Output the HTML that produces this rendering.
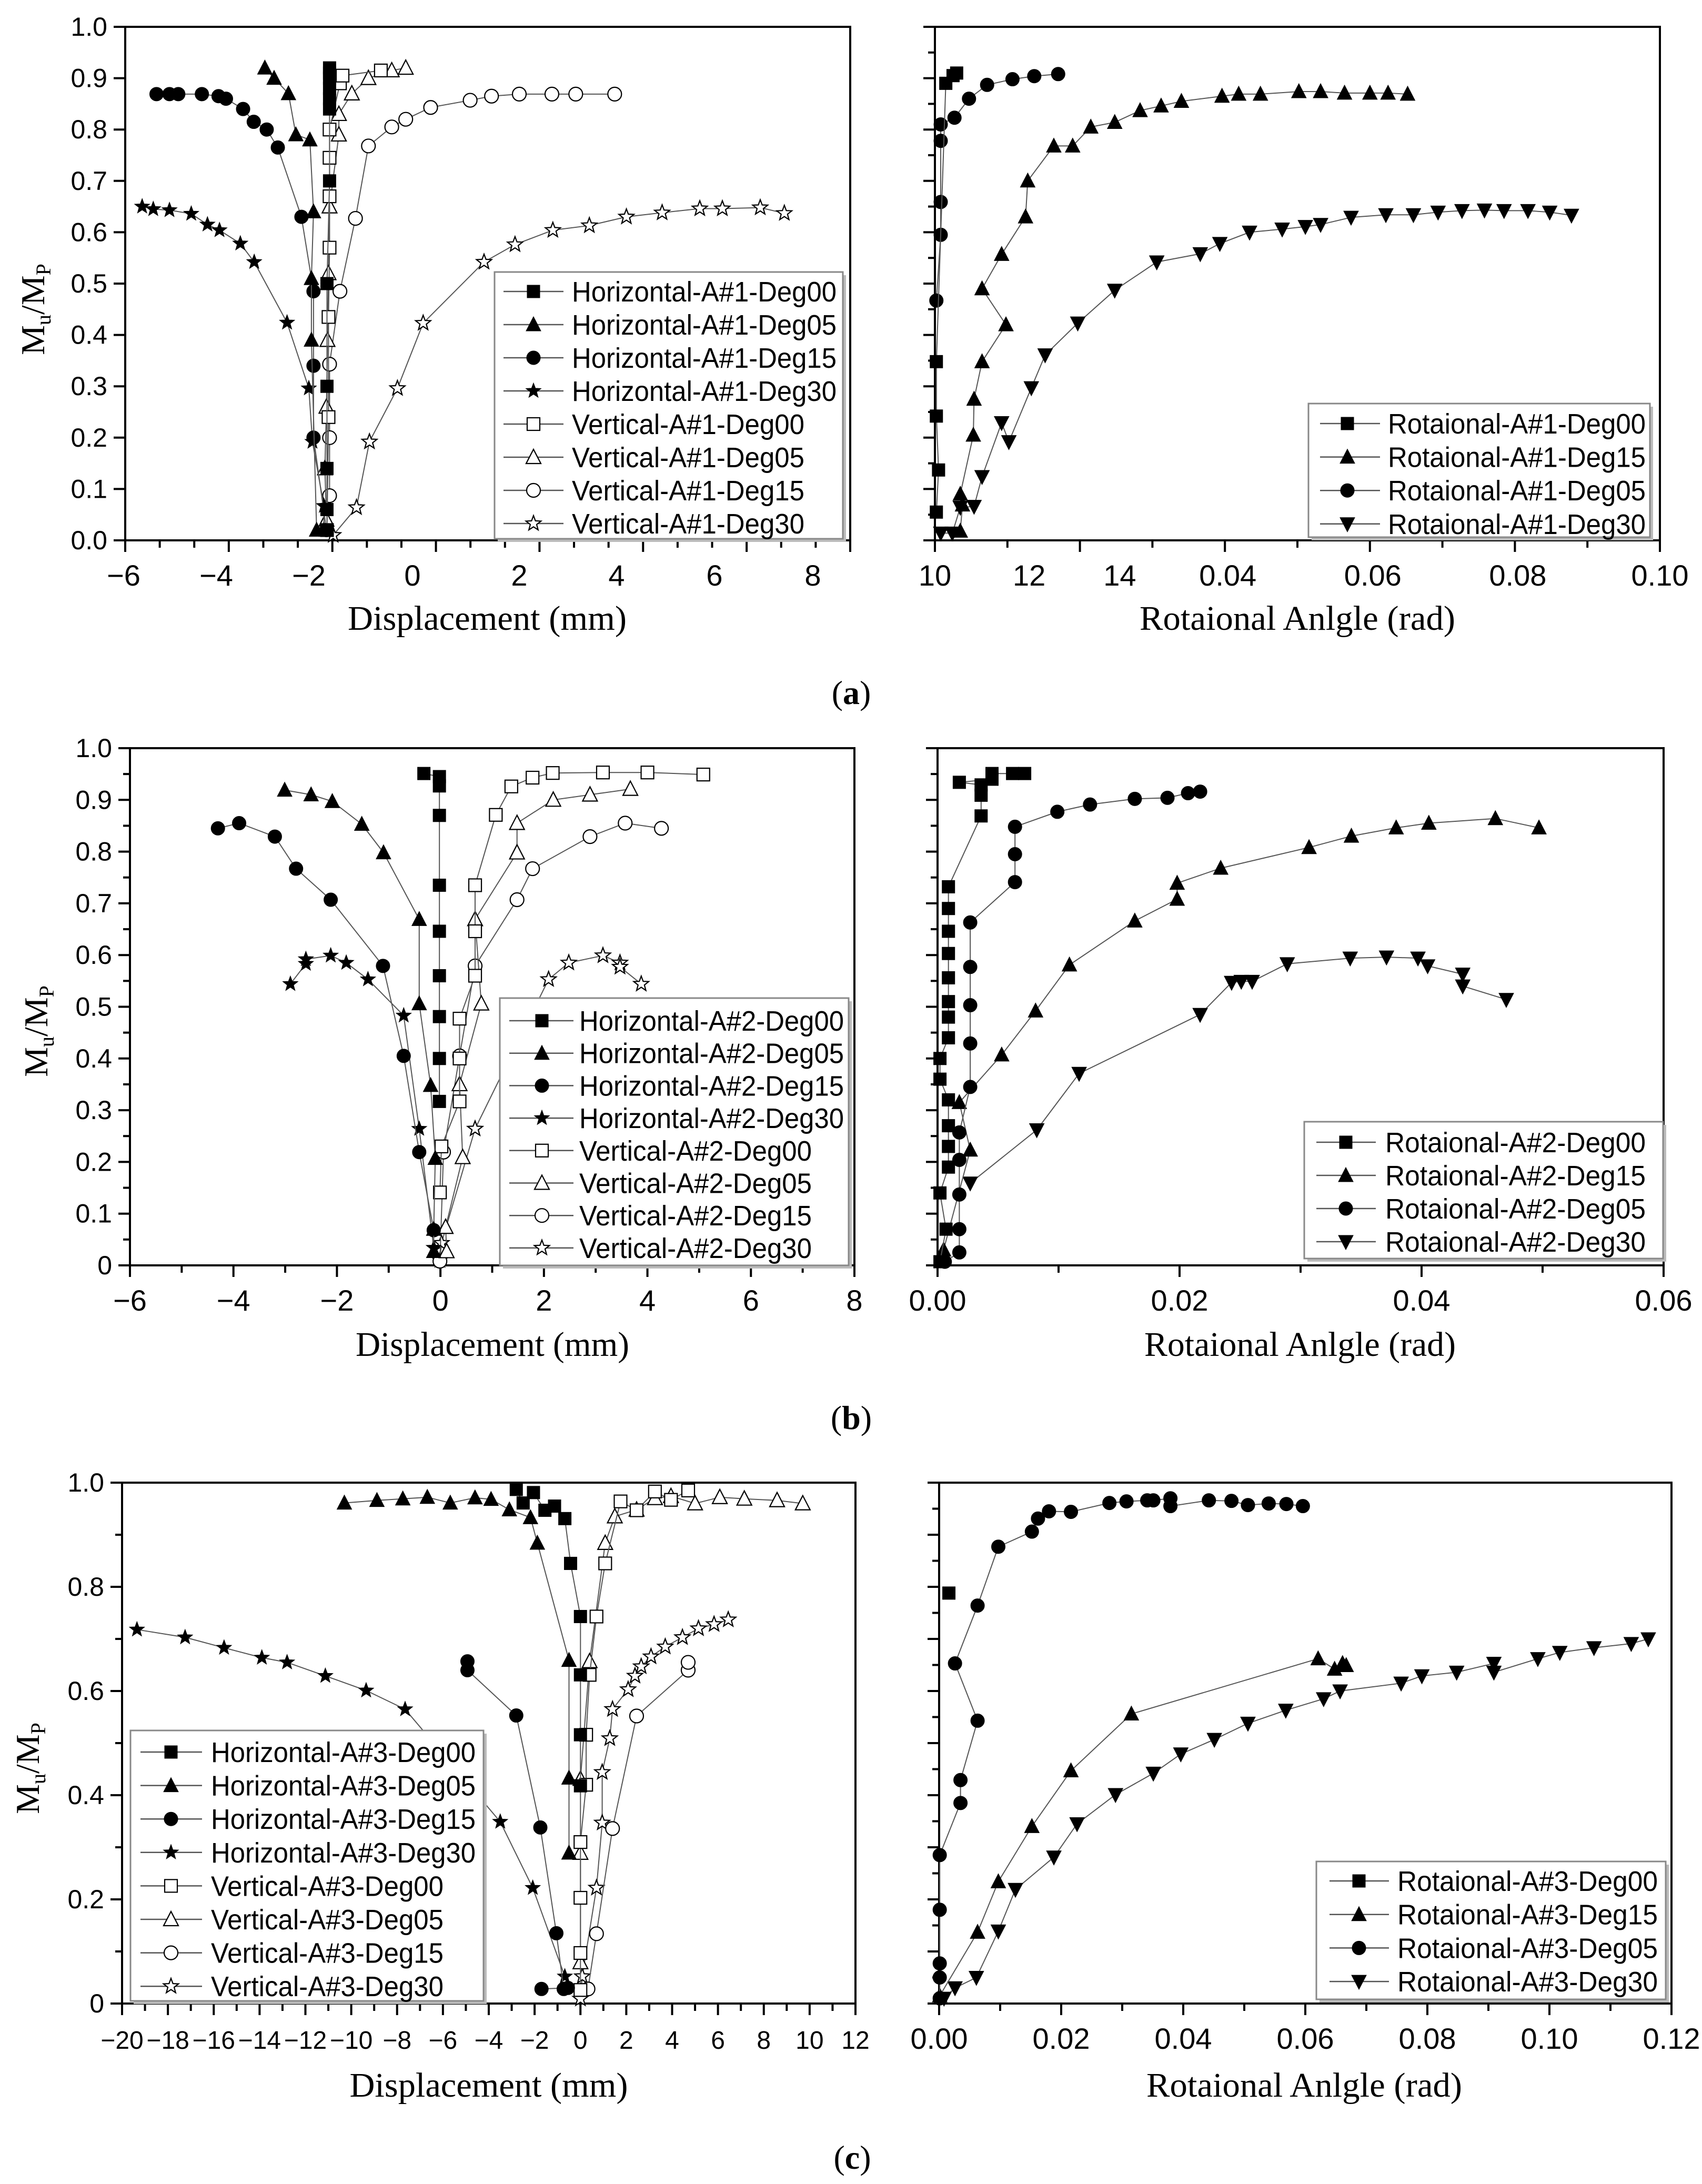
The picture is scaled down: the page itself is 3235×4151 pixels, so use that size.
<!DOCTYPE html>
<html><head><meta charset="utf-8"><title>Mu/Mp vs displacement and rotation</title>
<style>
html,body{margin:0;padding:0;background:#fff;}
svg{display:block;}
text{font-family:"Liberation Sans",sans-serif;fill:#000;}
.serif{font-family:"Liberation Serif",serif;}
</style></head>
<body>
<svg id="fig" xmlns="http://www.w3.org/2000/svg" width="3235" height="4151" viewBox="0 0 3235 4151">
<rect x="0" y="0" width="3235" height="4151" fill="#fff"/>
</svg>
<script>
// ===== Panel (a) left: displacement (mm) vs Mu/Mp =====
const aH00x=[-1.65,-1.65,-1.65,-1.65,-1.65,-1.6,-1.6,-1.6,-1.6,-1.6,-1.6,-1.6];
const aH00y=[0.02,0.06,0.14,0.3,0.5,0.7,0.84,0.86,0.88,0.9,0.91,0.92];
const aH05x=[-2.95,-2.75,-2.44,-2.28,-1.98,-1.91,-1.95,-1.95,-1.85];
const aH05y=[0.92,0.9,0.87,0.79,0.78,0.64,0.51,0.39,0.02];
const aH15x=[-5.29,-5.01,-4.82,-4.31,-3.95,-3.79,-3.42,-3.19,-2.91,-2.67,-2.16,-1.91,-1.91,-1.91,-1.66];
const aH15y=[0.869,0.869,0.869,0.869,0.865,0.86,0.84,0.815,0.8,0.765,0.63,0.485,0.34,0.2,0.02];
const aH30x=[-5.6,-5.36,-5.01,-4.54,-4.19,-3.93,-3.48,-3.18,-2.47,-2.0,-1.93,-1.71,-1.71];
const aH30y=[0.65,0.645,0.643,0.636,0.615,0.604,0.578,0.542,0.424,0.296,0.192,0.067,0.02];
const aV00x=[-1.65,-1.62,-1.62,-1.6,-1.6,-1.6,-1.6,-1.4,-1.35,-0.61];
const aV00y=[0.02,0.24,0.435,0.57,0.67,0.745,0.8,0.89,0.905,0.915];
const aV05x=[-1.66,-1.69,-1.66,-1.64,-1.62,-1.6,-1.42,-1.42,-1.17,-0.85,-0.4,-0.13];
const aV05y=[0.04,0.14,0.26,0.39,0.52,0.65,0.79,0.83,0.87,0.9,0.915,0.92];
const aV15x=[-1.6,-1.6,-1.6,-1.4,-1.1,-0.85,-0.4,-0.13,0.34,1.08,1.48,2.0,2.67,3.16,3.96];
const aV15y=[0.087,0.2,0.343,0.485,0.627,0.768,0.805,0.82,0.843,0.857,0.865,0.869,0.869,0.869,0.869];
const aV30x=[-1.53,-1.08,-0.83,-0.29,0.2,1.34,1.92,2.69,3.44,4.2,4.93,5.7,6.16,6.93,7.42];
const aV30y=[0.01,0.064,0.192,0.296,0.423,0.542,0.576,0.604,0.613,0.63,0.638,0.646,0.646,0.648,0.637];
// ===== Panel (a) right: rotation (rad) =====
const aR00x=[0.0002,0.0005,0.0002,0.0002,0.0015,0.0025,0.003];
const aR00y=[0.055,0.137,0.242,0.348,0.89,0.905,0.91];
const aR15x=[0.0035,0.0038,0.0035,0.0053,0.0054,0.0065,0.0098,0.0065,0.0092,0.0125,0.0128,0.0164,0.019,0.0215,0.0248,0.0283,0.0312,0.034,0.0396,0.0419,0.0449,0.0502,0.0532,0.0565,0.06,0.0625,0.0652];
const aR15y=[0.018,0.069,0.09,0.205,0.275,0.348,0.42,0.49,0.557,0.63,0.70,0.768,0.768,0.805,0.814,0.837,0.846,0.855,0.865,0.869,0.869,0.874,0.874,0.871,0.871,0.871,0.869];
const aR05x=[0.0002,0.0008,0.0008,0.0008,0.0008,0.0027,0.0047,0.0072,0.0107,0.0137,0.017];
const aR05y=[0.467,0.595,0.659,0.778,0.81,0.823,0.86,0.887,0.898,0.904,0.908];
const aR30x=[0.0008,0.0024,0.0035,0.0054,0.0065,0.0092,0.0102,0.0133,0.0152,0.0197,0.0248,0.0306,0.0366,0.0393,0.0434,0.0479,0.0511,0.0532,0.0574,0.0622,0.066,0.0694,0.0727,0.0758,0.0785,0.0818,0.0848,0.0878];
const aR30y=[0.014,0.014,0.064,0.066,0.124,0.229,0.192,0.297,0.361,0.423,0.487,0.542,0.558,0.578,0.6,0.606,0.611,0.615,0.629,0.634,0.634,0.639,0.642,0.643,0.642,0.642,0.639,0.633];
// ===== Panel (b) left =====
const bH00x=[-0.32,-0.02,-0.02,-0.02,-0.02,-0.02,-0.02,-0.02,-0.02,-0.02];
const bH00y=[0.951,0.945,0.927,0.87,0.735,0.646,0.56,0.481,0.4,0.317];
const bH05x=[-3.01,-2.5,-2.09,-1.52,-1.1,-0.41,-0.41,-0.19,-0.1,-0.13,-0.13];
const bH05y=[0.919,0.91,0.897,0.853,0.798,0.669,0.506,0.348,0.207,0.07,0.027];
const bH15x=[-4.3,-3.89,-3.2,-2.79,-2.12,-1.11,-0.71,-0.41,-0.13];
const bH15y=[0.845,0.855,0.829,0.767,0.707,0.579,0.405,0.219,0.068];
const bH30x=[-2.9,-2.6,-2.6,-2.12,-1.82,-1.4,-0.71,-0.41,-0.13];
const bH30y=[0.544,0.583,0.592,0.599,0.585,0.553,0.483,0.264,0.034];
const bV00x=[-0.01,0.02,0.37,0.37,0.37,0.67,0.67,0.67,1.07,1.37,1.78,2.17,3.14,4.0,5.08];
const bV00y=[0.141,0.23,0.317,0.4,0.477,0.56,0.646,0.735,0.871,0.926,0.943,0.952,0.953,0.953,0.949];
const bV05x=[0.12,0.1,0.43,0.37,0.79,0.67,1.48,1.48,2.18,2.89,3.67];
const bV05y=[0.027,0.074,0.209,0.35,0.506,0.669,0.798,0.855,0.9,0.91,0.921];
const bV15x=[-0.01,0.06,0.37,0.67,1.48,1.78,2.89,3.57,4.27];
const bV15y=[0.008,0.219,0.405,0.579,0.707,0.767,0.829,0.855,0.845];
const bV30x=[-0.01,0.02,0.67,2.09,2.48,3.14,3.47,3.47,3.88];
const bV30y=[0.01,0.043,0.264,0.553,0.585,0.599,0.585,0.577,0.544];
// ===== Panel (b) right =====
const bR00x=[0.0002,0.0007,0.0002,0.0009,0.0009,0.0009,0.0009,0.0002,0.0002,0.0009,0.0009,0.0009,0.0009,0.0009,0.0009,0.0009,0.0009,0.0036,0.0036,0.0036,0.0018,0.0045,0.0045,0.0062,0.0072];
const bR00y=[0.007,0.07,0.14,0.19,0.23,0.27,0.32,0.36,0.40,0.44,0.48,0.51,0.556,0.603,0.646,0.69,0.732,0.869,0.909,0.929,0.934,0.94,0.951,0.951,0.951];
const bR05x=[0.0006,0.0018,0.0018,0.0018,0.0018,0.0018,0.0027,0.0027,0.0027,0.0027,0.0027,0.0064,0.0064,0.0064,0.0099,0.0126,0.0163,0.019,0.0207,0.0217];
const bR05y=[0.007,0.025,0.07,0.137,0.204,0.257,0.345,0.429,0.503,0.577,0.663,0.741,0.795,0.848,0.877,0.891,0.902,0.904,0.913,0.916];
const bR15x=[0.0005,0.0027,0.0018,0.0053,0.0081,0.0109,0.0163,0.0198,0.0198,0.0234,0.0307,0.0342,0.0379,0.0406,0.0461,0.0497];
const bR15y=[0.03,0.223,0.315,0.407,0.492,0.581,0.666,0.708,0.739,0.768,0.808,0.83,0.846,0.855,0.864,0.846];
const bR30x=[0.0027,0.0082,0.0117,0.0217,0.0243,0.0251,0.026,0.0289,0.0341,0.0371,0.0397,0.0405,0.0434,0.0434,0.047];
const bR30y=[0.159,0.262,0.371,0.485,0.547,0.549,0.549,0.583,0.594,0.596,0.594,0.579,0.563,0.54,0.514];
// ===== Panel (c) left =====
const cH00x=[-2.8,-2.5,-2.05,-1.55,-1.13,-0.68,-0.43,0,0,0,0];
const cH00y=[0.987,0.961,0.981,0.947,0.955,0.931,0.845,0.743,0.631,0.516,0.418];
const cH05x=[-10.3,-8.88,-7.75,-6.68,-5.68,-4.6,-3.9,-3.1,-2.18,-1.88,-0.5,-0.5,-0.5];
const cH05y=[0.961,0.966,0.969,0.972,0.961,0.971,0.968,0.948,0.933,0.884,0.659,0.433,0.289];
const cH15x=[-4.93,-4.93,-2.8,-1.75,-1.05,-0.73,-0.55,-1.7];
const cH15y=[0.657,0.64,0.553,0.338,0.135,0.028,0.03,0.028];
const cH30x=[-19.35,-17.25,-15.55,-13.9,-12.8,-11.13,-9.35,-7.65,-3.5,-2.08,-0.68];
const cH30y=[0.718,0.703,0.683,0.664,0.655,0.629,0.601,0.565,0.349,0.222,0.052];
const cV00x=[0,0,0,0,0.25,0.25,0.4,0.7,1.08,1.75,2.45,3.25,3.95,4.7];
const cV00y=[0.026,0.097,0.203,0.31,0.42,0.516,0.631,0.743,0.845,0.964,0.947,0.983,0.967,0.985];
const cV05x=[0,0,0,0.4,1.08,1.5,2.45,3.25,3.95,5.0,6.08,7.15,8.58,9.7];
const cV05y=[0.079,0.289,0.431,0.657,0.884,0.935,0.948,0.97,0.974,0.96,0.972,0.969,0.966,0.96];
const cV15x=[0.33,0.7,1.4,2.45,4.7,4.7];
const cV15y=[0.028,0.134,0.336,0.552,0.64,0.655];
const cV30x=[0,0.08,0.7,0.95,0.95,1.28,1.4,2.08,2.38,2.65,3.08,3.7,4.45,5.15,5.83,6.45];
const cV30y=[0.009,0.052,0.222,0.347,0.444,0.509,0.565,0.603,0.629,0.647,0.666,0.685,0.703,0.72,0.728,0.737];
// ===== Panel (c) right =====
const cR00x=[0.0016];
const cR00y=[0.788];
const cR05x=[0.0001,0.0001,0.0001,0.0001,0.0001,0.0035,0.0035,0.0063,0.0026,0.0063,0.0097,0.0152,0.0162,0.018,0.0216,0.0279,0.0307,0.0341,0.0351,0.0379,0.0379,0.0442,0.0479,0.0506,0.054,0.0569,0.0596];
const cR05y=[0.01,0.05,0.077,0.18,0.285,0.385,0.429,0.543,0.653,0.764,0.877,0.906,0.931,0.945,0.944,0.961,0.964,0.966,0.966,0.97,0.955,0.966,0.965,0.957,0.96,0.959,0.955];
const cR15x=[0.0001,0.0063,0.0097,0.0152,0.0216,0.0315,0.0621,0.0648,0.0661,0.0667];
const cR15y=[0.015,0.137,0.234,0.34,0.447,0.556,0.662,0.642,0.653,0.649];
const cR30x=[0.0008,0.0026,0.0061,0.0097,0.0125,0.0188,0.0226,0.0289,0.0351,0.0396,0.0451,0.0506,0.0568,0.063,0.0657,0.0757,0.0791,0.0848,0.0909,0.0909,0.0981,0.1017,0.1073,0.1134,0.1162];
const cR30y=[0.01,0.03,0.05,0.139,0.219,0.281,0.345,0.401,0.442,0.479,0.507,0.538,0.563,0.585,0.6,0.615,0.629,0.636,0.653,0.636,0.662,0.674,0.683,0.691,0.7];

// ===== axis tick labels =====
const aLxTickLabels=["−6","−4","−2","0","2","4","6","8"];
const aLxLabelVals=[-6,-4,-2,0,2,4,6,8];
const aRxTickLabels=["10","12","14","0.04","0.06","0.08","0.10"];
const aRxLabelVals=[0,0.013,0.0255,0.0404,0.0604,0.0804,0.1];
const aYTickLabels=["0.0","0.1","0.2","0.3","0.4","0.5","0.6","0.7","0.8","0.9","1.0"];
const bLxTickLabels=["−6","−4","−2","0","2","4","6","8"];
const bRxTickLabels=["0.00","0.02","0.04","0.06"];
const bYTickLabels=["0","0.1","0.2","0.3","0.4","0.5","0.6","0.7","0.8","0.9","1.0"];
const cLxTickLabels=["−20","−18","−16","−14","−12","−10","−8","−6","−4","−2","0","2","4","6","8","10","12"];
const cRxTickLabels=["0.00","0.02","0.04","0.06","0.08","0.10","0.12"];
const cYTickLabels=["0","0.2","0.4","0.6","0.8","1.0"];

const NS="http://www.w3.org/2000/svg";
const svg=document.getElementById('fig');
function mk(tag,attrs,parent){const e=document.createElementNS(NS,tag);for(const k in attrs)e.setAttribute(k,attrs[k]);(parent||svg).appendChild(e);return e;}

// Panel geometry (layout, not data)
const P={
 aL:{x0:238,x1:1616,yT:51,yB:1027,vmin:-6,vmax:8,pwV:[-6,-4,-2,0,2,4,6,8],pwP:[235,411,587,784,987,1172,1358,1545]},
 aR:{x0:1777,x1:3155,yT:51,yB:1027,vmin:0,vmax:0.1},
 bL:{x0:247,x1:1624,yT:1422,yB:2405,vmin:-6,vmax:8},
 bR:{x0:1782,x1:3162,yT:1422,yB:2405,vmin:0,vmax:0.06},
 cL:{x0:232,x1:1626,yT:2818,yB:3808,vmin:-20,vmax:12},
 cR:{x0:1785,x1:3177,yT:2818,yB:3808,vmin:0,vmax:0.12}
};
function xs(p,v){
 if(p.pwV){const V=p.pwV,Q=p.pwP;
  if(v<=V[0])return Q[0]+(v-V[0])*(Q[1]-Q[0])/(V[1]-V[0]);
  for(let i=0;i<V.length-1;i++){if(v<=V[i+1])return Q[i]+(v-V[i])*(Q[i+1]-Q[i])/(V[i+1]-V[i]);}
  const n=V.length-1;return Q[n]+(v-V[n])*(Q[n]-Q[n-1])/(V[n]-V[n-1]);}
 return p.x0+(v-p.vmin)/(p.vmax-p.vmin)*(p.x1-p.x0);
}
function ys(p,v){return p.yB-v*(p.yB-p.yT);}

function markerEl(g,shape,fill,cx,cy,s){
 const r=s/2;let e;
 const f=fill?'#000':'#fff';
 const sw=fill?1:2.2;
 if(shape==='sq')e=mk('rect',{x:cx-r,y:cy-r,width:s,height:s,fill:f,stroke:'#000','stroke-width':sw},g);
 else if(shape==='ci')e=mk('circle',{cx:cx,cy:cy,r:r+1,fill:f,stroke:'#000','stroke-width':sw},g);
 else if(shape==='tu')e=mk('polygon',{points:`${cx},${cy-r-3} ${cx+r+2},${cy+r} ${cx-r-2},${cy+r}`,fill:f,stroke:'#000','stroke-width':sw},g);
 else if(shape==='td')e=mk('polygon',{points:`${cx-r-2},${cy-r} ${cx+r+2},${cy-r} ${cx},${cy+r+3}`,fill:f,stroke:'#000','stroke-width':sw},g);
 else {let pts=[];for(let i=0;i<10;i++){const a=-Math.PI/2+i*Math.PI/5;const rr=(i%2?0.42:1)*(r+3);pts.push((cx+rr*Math.cos(a)).toFixed(1)+','+(cy+rr*Math.sin(a)).toFixed(1));}
  e=mk('polygon',{points:pts.join(' '),fill:f,stroke:'#000','stroke-width':sw},g);}
 return e;
}

function drawSeries(p,xsArr,ysArr,shape,fill,name){
 const g=mk('g',{});
 
 
 let d='';
 for(let i=0;i<xsArr.length;i++){d+=(i?'L':'M')+xs(p,xsArr[i]).toFixed(1)+','+ys(p,ysArr[i]).toFixed(1);}
 const ln=mk('path',{d:d,fill:'none',stroke:'#555','stroke-width':2},g);
 
 
 for(let i=0;i<xsArr.length;i++){
  const m=markerEl(g,shape,fill,xs(p,xsArr[i]),ys(p,ysArr[i]),24);
  
  
 }
}

function txt(x,y,s,size,anchor,cls,tl){
 const t=mk('text',{x:x,y:y,'font-size':size,'text-anchor':anchor||'middle'});
 if(cls)t.setAttribute('class',cls);
 if(tl){t.setAttribute('textLength',tl);t.setAttribute('lengthAdjust','spacingAndGlyphs');}
 t.textContent=s;return t;
}

function frame(p,id){
 const r=mk('rect',{x:p.x0,y:p.yT,width:p.x1-p.x0,height:p.yB-p.yT,fill:'none',stroke:'#000','stroke-width':4});
 
 
}

function yTicks(p,id,step,labels,labStep){
 const n=Math.round(1/step);
 for(let i=0;i<=n;i++){
  const v=i*step;const y=ys(p,v);
  const major=Math.abs((v/labStep)-Math.round(v/labStep))<1e-6;
  const t=mk('line',{x1:p.x0-(major?22:13),x2:p.x0,y1:y,y2:y,stroke:'#000','stroke-width':4});
  
  
 }
 if(labels){for(let i=0;i<labels.length;i++){
  const y=ys(p,i*labStep);
  const t=txt(p.x0-34,y+17,labels[i],50,'end');
  
  
 }}
}

function xTicksUniform(p,id,n,majorEvery){
 for(let i=0;i<=n;i++){
  const x=p.x0+i*(p.x1-p.x0)/n;const major=(i%majorEvery===0);
  const t=mk('line',{x1:x,x2:x,y1:p.yB,y2:p.yB+(major?22:14),stroke:'#000','stroke-width':4});
  
  
 }
}
function xLabels(p,id,labels,vals,size){
 for(let i=0;i<labels.length;i++){
  const t=txt(xs(p,vals[i]),p.yB+86,labels[i],size||56,'middle');
  
  
 }
}

function yTitle(x,y,id){
 const t=mk('text',{x:x,y:y,'font-size':64,'text-anchor':'middle',transform:`rotate(-90 ${x} ${y})`,class:'serif'});
 
 
 const a=mk('tspan',{},t);a.textContent='M';
 const b=mk('tspan',{'font-size':40,dy:12},t);b.textContent='u';
 const c=mk('tspan',{dy:-12},t);c.textContent='/M';
 const d=mk('tspan',{'font-size':40,dy:12},t);d.textContent='P';
}

function legend(box,rows,lineX,markX,textX,items,id){
 const g=mk('g',{});
 
 
 mk('rect',{x:box[0]+6,y:box[1]+6,width:box[2]-box[0],height:box[3]-box[1],fill:'#bbb'},g);
 mk('rect',{x:box[0],y:box[1],width:box[2]-box[0],height:box[3]-box[1],fill:'#fff',stroke:'#888','stroke-width':3},g);
 for(let i=0;i<items.length;i++){
  const it=items[i];const y=rows[0]+i*(rows[1]);
  const e=mk('g',{},g);
  
  
  mk('line',{x1:lineX[0],x2:lineX[1],y1:y,y2:y,stroke:'#555','stroke-width':2.5},e);
  markerEl(e,it.shape,it.fill,markX,y,24);
  const t=mk('text',{x:textX,y:y+19,'font-size':54,'text-anchor':'start',textLength:it.tl,lengthAdjust:'spacingAndGlyphs'},e);
  t.textContent=it.label;
 }
}

// ---------- Panel (a) ----------
frame(P.aL,'a-left');frame(P.aR,'a-right');
yTicks(P.aL,'a-left',0.1,aYTickLabels,0.1);
yTicks(P.aR,'a-right',0.05,null,0.1);
xTicksUniform(P.aL,'a-left',21,3);
xLabels(P.aL,'a-left',aLxTickLabels,aLxLabelVals);
xTicksUniform(P.aR,'a-right',10,2);
xLabels(P.aR,'a-right',aRxTickLabels,aRxLabelVals);
drawSeries(P.aL,aV30x,aV30y,'st',false,'vertical-a1-deg30');
drawSeries(P.aL,aV15x,aV15y,'ci',false,'vertical-a1-deg15');
drawSeries(P.aL,aV05x,aV05y,'tu',false,'vertical-a1-deg05');
drawSeries(P.aL,aV00x,aV00y,'sq',false,'vertical-a1-deg00');
drawSeries(P.aL,aH30x,aH30y,'st',true,'horizontal-a1-deg30');
drawSeries(P.aL,aH15x,aH15y,'ci',true,'horizontal-a1-deg15');
drawSeries(P.aL,aH05x,aH05y,'tu',true,'horizontal-a1-deg05');
drawSeries(P.aL,aH00x,aH00y,'sq',true,'horizontal-a1-deg00');
drawSeries(P.aR,aR30x,aR30y,'td',true,'rotational-a1-deg30');
drawSeries(P.aR,aR15x,aR15y,'tu',true,'rotational-a1-deg15');
drawSeries(P.aR,aR05x,aR05y,'ci',true,'rotational-a1-deg05');
drawSeries(P.aR,aR00x,aR00y,'sq',true,'rotational-a1-deg00');
legend([940,517,1602,1024],[554,63],[957,1071],1014,1087,[
 {label:'Horizontal-A#1-Deg00',shape:'sq',fill:true,tl:503},{label:'Horizontal-A#1-Deg05',shape:'tu',fill:true,tl:503},
 {label:'Horizontal-A#1-Deg15',shape:'ci',fill:true,tl:503},{label:'Horizontal-A#1-Deg30',shape:'st',fill:true,tl:503},
 {label:'Vertical-A#1-Deg00',shape:'sq',fill:false,tl:442},{label:'Vertical-A#1-Deg05',shape:'tu',fill:false,tl:442},
 {label:'Vertical-A#1-Deg15',shape:'ci',fill:false,tl:442},{label:'Vertical-A#1-Deg30',shape:'st',fill:false,tl:442}],'a-left');
legend([2487,767,3136,1021],[805,63.6],[2509,2623],2561,2638,[
 {label:'Rotaional-A#1-Deg00',shape:'sq',fill:true,tl:490},{label:'Rotaional-A#1-Deg15',shape:'tu',fill:true,tl:490},
 {label:'Rotaional-A#1-Deg05',shape:'ci',fill:true,tl:490},{label:'Rotaional-A#1-Deg30',shape:'td',fill:true,tl:490}],'a-right');
yTitle(84,588,'a');
let t;
t=txt(926,1197,'Displacement (mm)',66,'middle','serif',530);
t=txt(2466,1197,'Rotaional Anlgle (rad)',66,'middle','serif',600);
t=mk('text',{x:1618,y:1338,'font-size':64,'text-anchor':'middle',class:'serif'});t.innerHTML='(<tspan font-weight="bold">a</tspan>)';

// ---------- Panel (b) ----------
frame(P.bL,'b-left');frame(P.bR,'b-right');
yTicks(P.bL,'b-left',0.05,bYTickLabels,0.1);
yTicks(P.bR,'b-right',0.05,null,0.1);
xTicksUniform(P.bL,'b-left',14,2);
xLabels(P.bL,'b-left',bLxTickLabels,[-6,-4,-2,0,2,4,6,8]);
xTicksUniform(P.bR,'b-right',6,2);
xLabels(P.bR,'b-right',bRxTickLabels,[0,0.02,0.04,0.06]);
drawSeries(P.bL,bV30x,bV30y,'st',false,'vertical-a2-deg30');
drawSeries(P.bL,bV15x,bV15y,'ci',false,'vertical-a2-deg15');
drawSeries(P.bL,bV05x,bV05y,'tu',false,'vertical-a2-deg05');
drawSeries(P.bL,bV00x,bV00y,'sq',false,'vertical-a2-deg00');
drawSeries(P.bL,bH30x,bH30y,'st',true,'horizontal-a2-deg30');
drawSeries(P.bL,bH15x,bH15y,'ci',true,'horizontal-a2-deg15');
drawSeries(P.bL,bH05x,bH05y,'tu',true,'horizontal-a2-deg05');
drawSeries(P.bL,bH00x,bH00y,'sq',true,'horizontal-a2-deg00');
drawSeries(P.bR,bR30x,bR30y,'td',true,'rotational-a2-deg30');
drawSeries(P.bR,bR15x,bR15y,'tu',true,'rotational-a2-deg15');
drawSeries(P.bR,bR05x,bR05y,'ci',true,'rotational-a2-deg05');
drawSeries(P.bR,bR00x,bR00y,'sq',true,'rotational-a2-deg00');
legend([950,1897,1613,2405],[1940,61.7],[968,1090],1030,1101,[
 {label:'Horizontal-A#2-Deg00',shape:'sq',fill:true,tl:503},{label:'Horizontal-A#2-Deg05',shape:'tu',fill:true,tl:503},
 {label:'Horizontal-A#2-Deg15',shape:'ci',fill:true,tl:503},{label:'Horizontal-A#2-Deg30',shape:'st',fill:true,tl:503},
 {label:'Vertical-A#2-Deg00',shape:'sq',fill:false,tl:442},{label:'Vertical-A#2-Deg05',shape:'tu',fill:false,tl:442},
 {label:'Vertical-A#2-Deg15',shape:'ci',fill:false,tl:442},{label:'Vertical-A#2-Deg30',shape:'st',fill:false,tl:442}],'b-left');
legend([2479,2132,3161,2392],[2171,63],[2502,2615],2558,2633,[
 {label:'Rotaional-A#2-Deg00',shape:'sq',fill:true,tl:495},{label:'Rotaional-A#2-Deg15',shape:'tu',fill:true,tl:495},
 {label:'Rotaional-A#2-Deg05',shape:'ci',fill:true,tl:495},{label:'Rotaional-A#2-Deg30',shape:'td',fill:true,tl:495}],'b-right');
yTitle(90,1960,'b');
t=txt(936,2577,'Displacement (mm)',66,'middle','serif',520);
t=txt(2471,2577,'Rotaional Anlgle (rad)',66,'middle','serif',592);
t=mk('text',{x:1618,y:2716,'font-size':64,'text-anchor':'middle',class:'serif'});t.innerHTML='(<tspan font-weight="bold">b</tspan>)';

// ---------- Panel (c) ----------
frame(P.cL,'c-left');frame(P.cR,'c-right');
yTicks(P.cL,'c-left',0.1,cYTickLabels,0.2);
yTicks(P.cR,'c-right',0.05,null,0.1);
xTicksUniform(P.cL,'c-left',32,2);
xLabels(P.cL,'c-left',cLxTickLabels,[-20,-18,-16,-14,-12,-10,-8,-6,-4,-2,0,2,4,6,8,10,12],48);
xTicksUniform(P.cR,'c-right',12,2);
xLabels(P.cR,'c-right',cRxTickLabels,[0,0.02,0.04,0.06,0.08,0.10,0.12]);
drawSeries(P.cL,cV30x,cV30y,'st',false,'vertical-a3-deg30');
drawSeries(P.cL,cV15x,cV15y,'ci',false,'vertical-a3-deg15');
drawSeries(P.cL,cV05x,cV05y,'tu',false,'vertical-a3-deg05');
drawSeries(P.cL,cV00x,cV00y,'sq',false,'vertical-a3-deg00');
drawSeries(P.cL,cH30x,cH30y,'st',true,'horizontal-a3-deg30');
drawSeries(P.cL,cH15x,cH15y,'ci',true,'horizontal-a3-deg15');
drawSeries(P.cL,cH05x,cH05y,'tu',true,'horizontal-a3-deg05');
drawSeries(P.cL,cH00x,cH00y,'sq',true,'horizontal-a3-deg00');
drawSeries(P.cR,cR30x,cR30y,'td',true,'rotational-a3-deg30');
drawSeries(P.cR,cR15x,cR15y,'tu',true,'rotational-a3-deg15');
drawSeries(P.cR,cR05x,cR05y,'ci',true,'rotational-a3-deg05');
drawSeries(P.cR,cR00x,cR00y,'sq',true,'rotational-a3-deg00');
legend([248,3289,919,3803],[3330,63.6],[267,384],325,401,[
 {label:'Horizontal-A#3-Deg00',shape:'sq',fill:true,tl:503},{label:'Horizontal-A#3-Deg05',shape:'tu',fill:true,tl:503},
 {label:'Horizontal-A#3-Deg15',shape:'ci',fill:true,tl:503},{label:'Horizontal-A#3-Deg30',shape:'st',fill:true,tl:503},
 {label:'Vertical-A#3-Deg00',shape:'sq',fill:false,tl:442},{label:'Vertical-A#3-Deg05',shape:'tu',fill:false,tl:442},
 {label:'Vertical-A#3-Deg15',shape:'ci',fill:false,tl:442},{label:'Vertical-A#3-Deg30',shape:'st',fill:false,tl:442}],'c-left');
legend([2502,3538,3166,3800],[3575,63.7],[2527,2640],2583,2656,[
 {label:'Rotaional-A#3-Deg00',shape:'sq',fill:true,tl:495},{label:'Rotaional-A#3-Deg15',shape:'tu',fill:true,tl:495},
 {label:'Rotaional-A#3-Deg05',shape:'ci',fill:true,tl:495},{label:'Rotaional-A#3-Deg30',shape:'td',fill:true,tl:495}],'c-right');
yTitle(74,3361,'c');
t=txt(929,3985,'Displacement (mm)',66,'middle','serif',529);
t=txt(2479,3985,'Rotaional Anlgle (rad)',66,'middle','serif',600);
t=mk('text',{x:1620,y:4122,'font-size':64,'text-anchor':'middle',class:'serif'});t.innerHTML='(<tspan font-weight="bold">c</tspan>)';
</script>
</body></html>
